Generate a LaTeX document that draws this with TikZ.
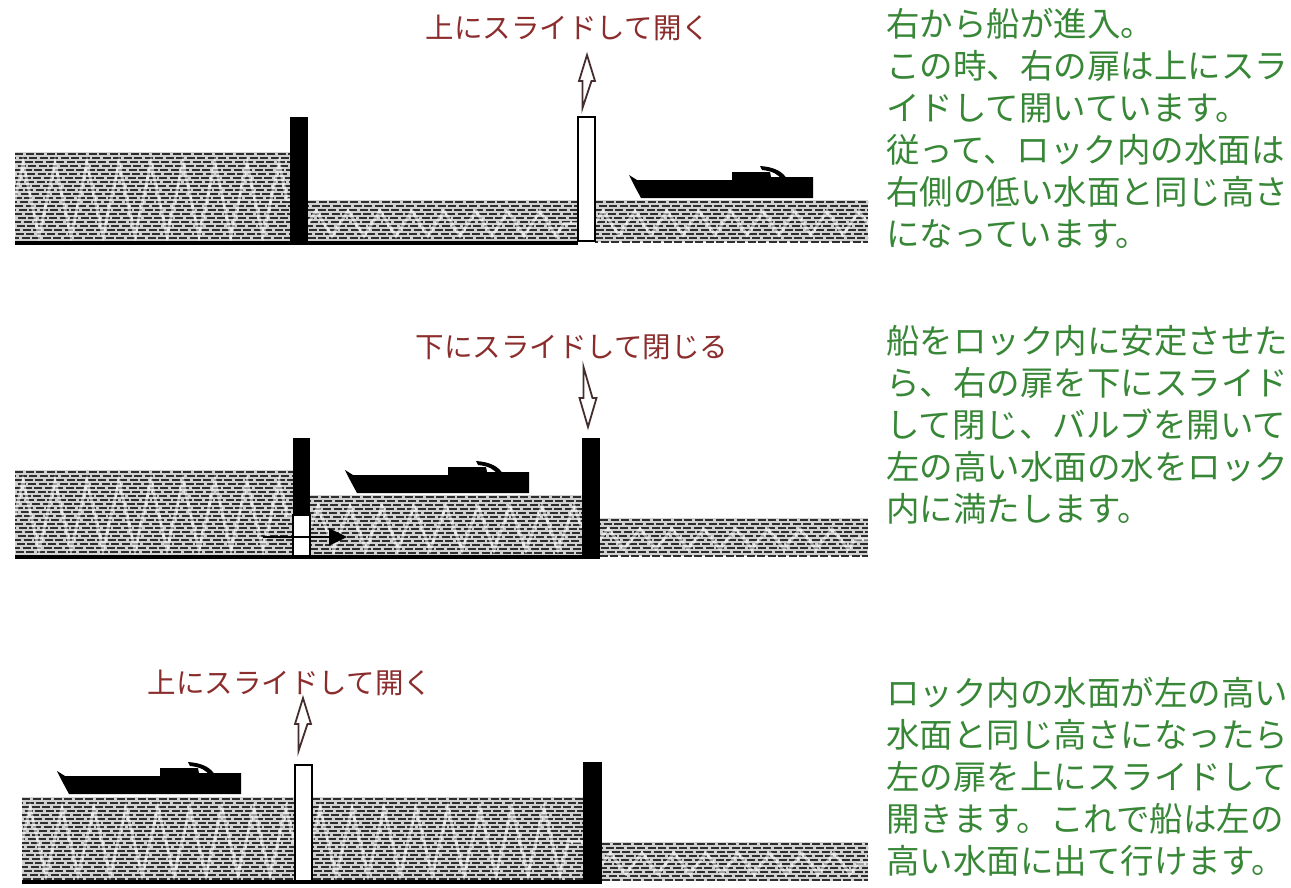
\documentclass[tikz,border=0pt]{standalone}
\usepackage{fontspec}
\newfontfamily\jpfont{Noto Sans CJK JP}
\usetikzlibrary{arrows.meta,decorations.pathmorphing}

\definecolor{labelred}{RGB}{140,45,45}
\definecolor{notegreen}{RGB}{55,135,55}
\definecolor{arrowedge}{RGB}{70,45,45}

\tikzset{
  waterline/.style={line width=2pt, black!82, dash pattern=on 8pt off 2.5pt},
  ripple/.style={white, opacity=0.55, line width=3pt, decorate},
  floorline/.style={line width=3.5pt, black},
  gateshut/.style={fill=black},
  gateopen/.style={draw=black, line width=1.8pt, fill=white},
  captionjp/.style={font=\jpfont\fontsize{28.5}{34}\selectfont, text=labelred, inner sep=0pt},
  notejp/.style={font=\jpfont\fontsize{33.5}{42}\selectfont, text=notegreen, align=left, inner sep=0pt, anchor=north west},
  flow/.style={line width=2.2pt, black, -{Triangle[length=18pt,width=17pt]}},
  boat/.pic={
    \fill[black] (0,-23) -- (5,-13) -- (12,0) -- (184,0) -- (184,-21) -- (142,-21) -- (141,-26)
      -- (103,-26) -- (103,-18) -- (8,-18) -- cycle;
    \fill[black] (131,-32) -- (133,-28) .. controls (144,-27) and (150,-23) .. (152,-19)
      -- (158,-19) .. controls (154,-26) and (146,-31) .. (131,-32) -- cycle;
  },
  uparrow/.pic={
    \draw[arrowedge, line width=1.8pt, fill=white, line join=miter]
      (-4.5,0) -- (-4.5,-27) -- (-8,-27) -- (0,-53) -- (8,-27) -- (4.5,-27) -- cycle;
  },
  downarrow/.pic={
    \draw[arrowedge, line width=1.8pt, fill=white, line join=miter]
      (-4.5,0) -- (-4.5,31) -- (-8.5,31) -- (0,60) -- (8.5,31) -- (4.5,31) -- cycle;
  }
}

% a body of water: dashed hatching rows with a faint zigzag ripple
\newcommand\waterbody[4]{%
  \begin{scope}
    \clip (#1,#2) rectangle (#3,#4);
    \fill[white!82!black] (#1,#2) rectangle (#3,#4);
    \foreach \k in {0,...,24}{%
      \pgfmathsetmacro\yy{#2+1.5+4*\k}%
      \pgfmathsetmacro\ph{mod(\k*7,13)}%
      \draw[waterline, dash phase=\ph pt] (#1,\yy) -- (#3,\yy);
    }
    \pgfmathsetmacro\amp{(#4-#2)/2-9}%
    \pgfmathsetmacro\ym{(#2+#4)/2+2}%
    \draw[ripple, decoration={zigzag, segment length=32pt, amplitude=\amp pt}]
      (#1,\ym) -- (#3,\ym);
  \end{scope}}

\begin{document}
\begin{tikzpicture}[x=1pt, y=-1pt]
  \useasboundingbox (0,0) rectangle (1291,887);
  \fill[white] (0,0) rectangle (1291,887);

  % ---------- stage 1: boat enters from the right ----------
  \waterbody{15}{152}{290}{243}
  \waterbody{308}{200}{578}{243}
  \waterbody{595}{200}{868}{242}
  \draw[floorline] (15,243) -- (578,243);
  \fill[gateshut] (290,117) rectangle (308,245);
  \draw[gateopen] (578,117) rectangle (595,241);
  \pic at (629,198) {boat};
  \pic at (587,108) {uparrow};
  \node[captionjp] (cap1) at (568,28) {上にスライドして開く};
  \node[notejp] (note1) at (886,8) {右から船が進入。\\この時、右の扉は上にスラ\\イドして開いています。\\従って、ロック内の水面は\\右側の低い水面と同じ高さ\\になっています。};

  % ---------- stage 2: right gate closed, lock filling ----------
  \waterbody{15}{470}{293}{557}
  \waterbody{310}{495}{582}{557}
  \waterbody{600}{518}{868}{556}
  \draw[floorline] (15,557) -- (582,557);
  \fill[gateshut] (293,438) rectangle (310,515);
  \draw[gateopen] (293,515) rectangle (310,556);
  \fill[gateshut] (582,438) rectangle (600,559);
  \pic at (345,493) {boat};
  \pic at (588,367) {downarrow};
  \coordinate (flowS) at (263,537);
  \coordinate (flowE) at (347,537);
  \draw[flow] (flowS) -- (flowE);
  \node[captionjp] (cap2) at (572,347) {下にスライドして閉じる};
  \node[notejp] (note2) at (886,325) {船をロック内に安定させた\\ら、右の扉を下にスライド\\して閉じ、バルブを開いて\\左の高い水面の水をロック\\内に満たします。};

  % ---------- stage 3: levels equal, left gate opened ----------
  \waterbody{22}{797}{295}{882}
  \waterbody{312}{797}{583}{882}
  \waterbody{602}{842}{868}{881}
  \draw[floorline] (22,882) -- (583,882);
  \draw[gateopen] (295,765) rectangle (312,881);
  \fill[gateshut] (583,762) rectangle (602,884);
  \pic at (57,794) {boat};
  \pic at (303,751) {uparrow};
  \node[captionjp] (cap3) at (290,683) {上にスライドして開く};
  \node[notejp] (note3) at (886,677) {ロック内の水面が左の高い\\水面と同じ高さになったら\\左の扉を上にスライドして\\開きます。これで船は左の\\高い水面に出て行けます。};
\end{tikzpicture}
\end{document}
